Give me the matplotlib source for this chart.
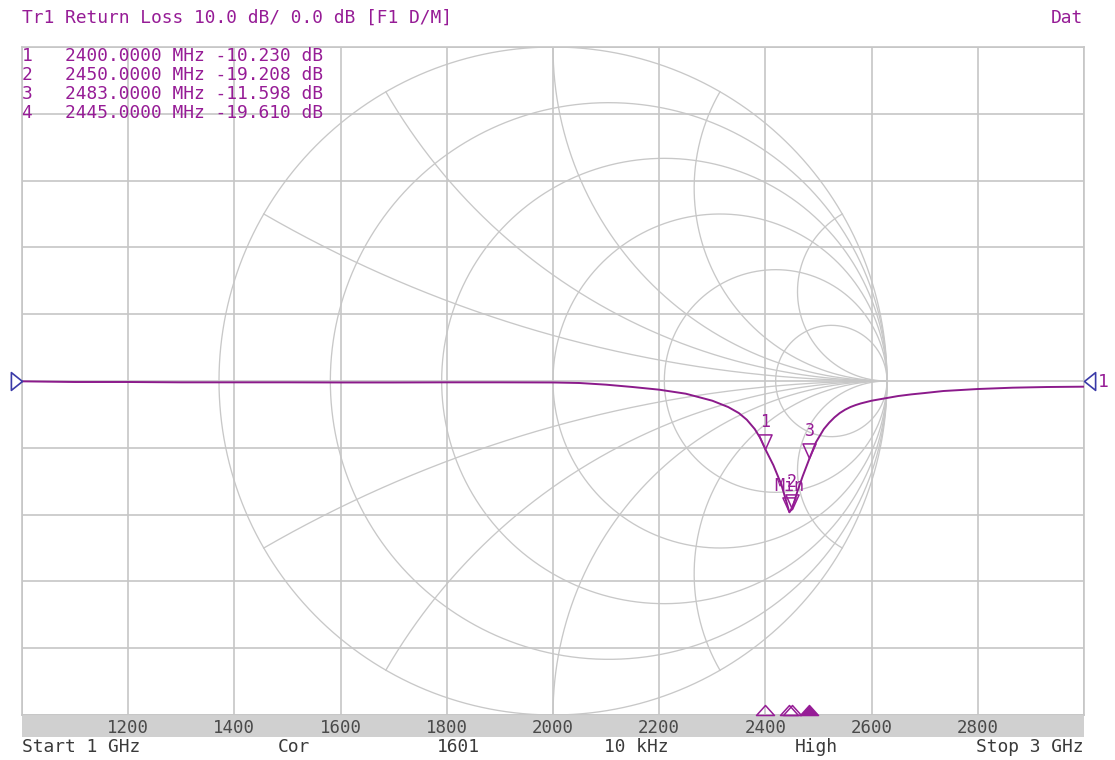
import numpy as np
import matplotlib
matplotlib.use("Agg")
import matplotlib.pyplot as plt
from matplotlib.path import Path
from matplotlib.patches import Rectangle

# ---------------- data ----------------
freq_mhz = [1000, 1050, 1100, 1150, 1200, 1300, 1400, 1500, 1600, 1700, 1800, 1900,
            2000, 2050, 2100, 2150, 2200, 2250, 2300, 2330, 2350, 2365, 2380, 2390, 2400,
            2415, 2430, 2440, 2445, 2450, 2460, 2470, 2483, 2495, 2510, 2520, 2530, 2540,
            2550, 2560, 2570, 2580, 2600, 2625, 2650, 2675, 2700, 2735, 2800, 2866, 2930, 3000]
return_loss_db = [-0.05, -0.1, -0.15, -0.15, -0.15, -0.2, -0.2, -0.2, -0.22, -0.22, -0.2, -0.2,
                  -0.22, -0.3, -0.55, -0.9, -1.3, -1.9, -2.95, -3.9, -4.8, -5.8, -7.2, -8.5, -10.23,
                  -12.6, -15.5, -18.2, -19.61, -19.208, -16.6, -14.3, -11.598, -9.2, -7.2, -6.25, -5.45, -4.8,
                  -4.3, -3.9, -3.6, -3.35, -2.95, -2.6, -2.25, -2.0, -1.8, -1.5, -1.2, -1.0, -0.9, -0.85]

marker_ids = ["1", "2", "3", "4"]
marker_freqs = [2400.0, 2450.0, 2483.0, 2445.0]
marker_vals = [-10.230, -19.208, -11.598, -19.610]
marker_tags = ["1", "2", "3", "Min"]
marker_filled = [False, False, True, False]

xtick_vals = [1000, 1200, 1400, 1600, 1800, 2000, 2200, 2400, 2600, 2800, 3000]
xtick_labels = ["", "1200", "1400", "1600", "1800", "2000", "2200", "2400", "2600", "2800", ""]
ytick_vals = [-50, -40, -30, -20, -10, 0, 10, 20, 30, 40, 50]

smith_r = [0.0, 0.2, 0.5, 1.0, 2.0, 5.0]
smith_x = [0.268, 0.577, 1.0, 1.732, 3.732]

title_text = "Tr1 Return Loss 10.0 dB/ 0.0 dB [F1 D/M]"
status_texts = ["Start 1 GHz", "Cor", "1601", "10 kHz", "High", "Stop 3 GHz"]

# ---------------- style ----------------
W, H = 1115, 760
PURPLE = "#961c96"
TRACE = "#8b1a8b"
GRID = "#c6c6c6"
SMITH = "#c8c8c8"
BLUE = "#3a3aa8"
MONO = ["DejaVu Sans Mono"]
FS = 12.9

fig = plt.figure(figsize=(W / 100, H / 100), dpi=100)
fig.patch.set_facecolor("white")

px_l, px_r, px_t, px_b = 22, 1084, 47, 715
rect = [px_l / W, 1 - px_b / H, (px_r - px_l) / W, (px_b - px_t) / H]

# Smith chart axes (underneath)
ax_s = fig.add_axes(rect, zorder=0)
half_w = (px_r - px_l) / (px_b - px_t)
ax_s.set_xlim(-half_w, half_w)
ax_s.set_ylim(-1, 1)
ax_s.axis("off")

t = np.linspace(-np.pi / 2 + 1e-4, np.pi / 2 - 1e-4, 1500)
for r in smith_r:
    xx = np.tan(t)
    z = r + 1j * xx
    g = (z - 1) / (z + 1)
    ax_s.plot(g.real, g.imag, color=SMITH, lw=0.95)
rr = np.concatenate([[0.0], np.logspace(-3, 5, 1500)])
for xv in smith_x:
    for s in (1, -1):
        z = rr + 1j * s * xv
        g = (z - 1) / (z + 1)
        ax_s.plot(g.real, g.imag, color=SMITH, lw=0.95)

# Main rectangular axes
ax = fig.add_axes(rect, zorder=1)
ax.set_facecolor("none")
ax.set_xlim(1000, 3000)
ax.set_ylim(-50, 50)
ax.set_xticks(xtick_vals)
ax.set_xticklabels(xtick_labels)
ax.set_yticks(ytick_vals)
ax.set_yticklabels([])
ax.tick_params(axis="both", length=0)
ax.tick_params(axis="x", pad=3, labelsize=12.5, labelcolor="#4a4a4a")
for lab in ax.get_xticklabels():
    lab.set_family(MONO)
ax.grid(True, color=GRID, lw=1.2)
for sp in ax.spines.values():
    sp.set_color(GRID)
    sp.set_linewidth(1.2)

# trace
ax.plot(freq_mhz, return_loss_db, color=TRACE, lw=1.4, zorder=5)

# markers on trace (down triangles with apex at point)
down_tri = Path([(-0.45, 1.0), (0.45, 1.0), (0.0, 0.0), (-0.45, 1.0)],
                [Path.MOVETO, Path.LINETO, Path.LINETO, Path.CLOSEPOLY])
up_tri = Path([(-0.9, 0.0), (0.9, 0.0), (0.0, 1.0), (-0.9, 0.0)],
              [Path.MOVETO, Path.LINETO, Path.LINETO, Path.CLOSEPOLY])
for f, v, tag, filled in zip(marker_freqs, marker_vals, marker_tags, marker_filled):
    ax.plot([f], [v], marker=down_tri, markersize=21, markerfacecolor="none",
            markeredgecolor=PURPLE, markeredgewidth=1.1, linestyle="none", zorder=6)
    dy = 20 if tag != "Min" else 18.5
    ax.annotate(tag, (f, v), xytext=(0, dy), textcoords="offset points",
                ha="center", va="center", fontsize=12, color=PURPLE,
                family=MONO, zorder=7)
    ax.plot([f], [-50], marker=up_tri, markersize=14.4,
            markerfacecolor=PURPLE if filled else "none",
            markeredgecolor=PURPLE, markeredgewidth=1.1, linestyle="none",
            clip_on=False, zorder=6)

# reference position markers
left_tri = Path([(0, 0), (-1, 0.8), (-1, -0.8), (0, 0)],
                [Path.MOVETO, Path.LINETO, Path.LINETO, Path.CLOSEPOLY])
right_tri = Path([(0, 0), (1, 0.8), (1, -0.8), (0, 0)],
                 [Path.MOVETO, Path.LINETO, Path.LINETO, Path.CLOSEPOLY])
ax.plot([1000], [0], marker=left_tri, markersize=16, markerfacecolor="none",
        markeredgecolor=BLUE, markeredgewidth=1.2, clip_on=False, zorder=6)
ax.plot([3000], [0], marker=right_tri, markersize=16, markerfacecolor="none",
        markeredgecolor=BLUE, markeredgewidth=1.2, clip_on=False, zorder=6)
fig.text(1098 / W, 1 - 382 / H, "1", color=PURPLE, fontsize=FS, family=MONO,
         ha="left", va="center")

# bottom frequency strip
fig.patches.append(Rectangle((px_l / W, 1 - 737 / H), (px_r - px_l) / W, 21 / H,
                             transform=fig.transFigure, facecolor="#d0d0d0",
                             edgecolor="none", zorder=0))

# header texts
fig.text(22 / W, 1 - 18 / H, title_text, color=PURPLE, fontsize=FS, family=MONO,
         ha="left", va="center")
fig.text(1083 / W, 1 - 18 / H, "Dat", color=PURPLE, fontsize=FS, family=MONO,
         ha="right", va="center")

# marker table
for i, (mid, f, v) in enumerate(zip(marker_ids, marker_freqs, marker_vals)):
    line = f"{mid}   {f:.4f} MHz {v:.3f} dB"
    fig.text(22 / W, 1 - (56 + 19 * i) / H, line, color=PURPLE, fontsize=FS,
             family=MONO, ha="left", va="center")

# status line
status_x = [22, 294, 458, 636, 816, 1084]
status_ha = ["left", "center", "center", "center", "center", "right"]
for txt, x, ha in zip(status_texts, status_x, status_ha):
    fig.text(x / W, 1 - 747 / H, txt, color="#3a3a3a", fontsize=FS, family=MONO,
             ha=ha, va="center")

fig.savefig("out.png", dpi=100, facecolor="white")
